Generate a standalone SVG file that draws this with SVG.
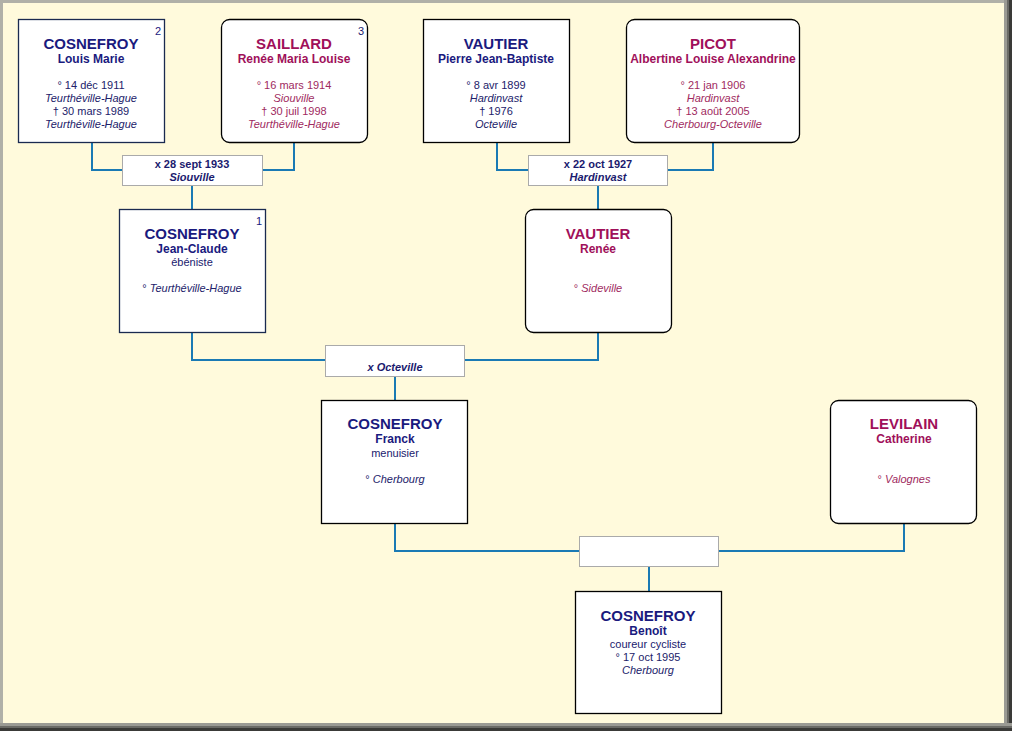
<svg xmlns="http://www.w3.org/2000/svg" width="1012" height="731" viewBox="0 0 1012 731">
<style>
text{font-family:"Liberation Sans",Arial,sans-serif;text-anchor:middle}
.sn{font-size:15px;font-weight:bold}
.gn{font-size:12px;font-weight:bold}
.d{font-size:11px}
.i{font-style:italic}
.num{font-size:11px;text-anchor:end}
.m text{fill:#1a1a7e}
.m .d{fill:#22226a}
.f text{fill:#a0105a}
.f .d{fill:#a02a60}
.box{fill:#fff;stroke:#1a2a50;stroke-width:1.3}
.blk{fill:#fff;stroke:#000;stroke-width:1.3}
.mar rect{fill:#fff;stroke:#aaa;stroke-width:1}
.mar text{fill:#1a1a6e;font-size:11px;font-weight:bold}
#connectors path{fill:none;stroke:#1a7ab4;stroke-width:2}
</style>
<rect x="0" y="0" width="1012" height="731" fill="#fffadc"/>
<!-- frame bevel -->
<rect x="0" y="0" width="1012" height="3" fill="#b0b0a8"/>
<rect x="0" y="0" width="3" height="731" fill="#b0b0a8"/>
<rect x="1004" y="0" width="8" height="731" fill="#9a9a94"/>
<rect x="1007" y="0" width="5" height="731" fill="#6a6a66"/>
<rect x="1009" y="0" width="3" height="731" fill="#3a3a38"/>
<rect x="0" y="723" width="1012" height="8" fill="#9a9a94"/>
<rect x="0" y="726" width="1012" height="5" fill="#6a6a66"/>
<rect x="0" y="728" width="1012" height="3" fill="#3a3a38"/>

<g id="connectors">
<path d="M92 142V170H122M294 142V170H262M192 185V209"/>
<path d="M497 142V170H528M713 142V170H667M598 185V209"/>
<path d="M192 332V360H325M598 332V360H464M395 376V400"/>
<path d="M395 523V551H579M904 523V551H718M649 566V591"/>
</g>

<g id="p2" class="m">
<rect class="box" x="18.5" y="19.5" width="146" height="123"/>
<text class="num" x="161" y="35">2</text>
<text class="sn" x="91" y="49">COSNEFROY</text>
<text class="gn" x="91" y="63">Louis Marie</text>
<text class="d" x="91" y="89">° 14 déc 1911</text>
<text class="d i" x="91" y="102">Teurthéville-Hague</text>
<text class="d" x="91" y="115">† 30 mars 1989</text>
<text class="d i" x="91" y="128">Teurthéville-Hague</text>
</g>

<g id="p3" class="f">
<rect class="blk" x="221.5" y="19.5" width="146" height="123" rx="8"/>
<text class="num" x="364" y="35" style="fill:#1a1a6e">3</text>
<text class="sn" x="294" y="49">SAILLARD</text>
<text class="gn" x="294" y="63">Renée Maria Louise</text>
<text class="d" x="294" y="89">° 16 mars 1914</text>
<text class="d i" x="294" y="102">Siouville</text>
<text class="d" x="294" y="115">† 30 juil 1998</text>
<text class="d i" x="294" y="128">Teurthéville-Hague</text>
</g>

<g id="p4" class="m">
<rect class="blk" x="423.5" y="19.5" width="146" height="123"/>
<text class="sn" x="496" y="49">VAUTIER</text>
<text class="gn" x="496" y="63">Pierre Jean-Baptiste</text>
<text class="d" x="496" y="89">° 8 avr 1899</text>
<text class="d i" x="496" y="102">Hardinvast</text>
<text class="d" x="496" y="115">† 1976</text>
<text class="d i" x="496" y="128">Octeville</text>
</g>

<g id="p5" class="f">
<rect class="blk" x="626.5" y="19.5" width="173" height="123" rx="8"/>
<text class="sn" x="713" y="49">PICOT</text>
<text class="gn" x="713" y="63">Albertine Louise Alexandrine</text>
<text class="d" x="713" y="89">° 21 jan 1906</text>
<text class="d i" x="713" y="102">Hardinvast</text>
<text class="d" x="713" y="115">† 13 août 2005</text>
<text class="d i" x="713" y="128">Cherbourg-Octeville</text>
</g>

<g id="m1" class="mar">
<rect x="122.5" y="155.5" width="140" height="30"/>
<text x="192" y="168">x 28 sept 1933</text>
<text class="i" x="192" y="181">Siouville</text>
</g>

<g id="m2" class="mar">
<rect x="528.5" y="155.5" width="139" height="30"/>
<text x="598" y="168">x 22 oct 1927</text>
<text class="i" x="598" y="181">Hardinvast</text>
</g>

<g id="p1" class="m">
<rect class="box" x="119.5" y="209.5" width="146" height="123"/>
<text class="num" x="262" y="225">1</text>
<text class="sn" x="192" y="239">COSNEFROY</text>
<text class="gn" x="192" y="253">Jean-Claude</text>
<text class="d" x="192" y="266" style="fill:#1a1a6e">ébéniste</text>
<text class="d" x="192" y="292">° <tspan class="i">Teurthéville-Hague</tspan></text>
</g>

<g id="p6" class="f">
<rect class="blk" x="525.5" y="209.5" width="146" height="123" rx="8"/>
<text class="sn" x="598" y="239">VAUTIER</text>
<text class="gn" x="598" y="253">Renée</text>
<text class="d" x="598" y="292">° <tspan class="i">Sideville</tspan></text>
</g>

<g id="m3" class="mar">
<rect x="325.5" y="345.5" width="139" height="31"/>
<text class="i" x="395" y="371">x Octeville</text>
</g>

<g id="p7" class="m">
<rect class="blk" x="321.5" y="400.5" width="146" height="123"/>
<text class="sn" x="395" y="429">COSNEFROY</text>
<text class="gn" x="395" y="443">Franck</text>
<text class="d" x="395" y="457" style="fill:#1a1a6e">menuisier</text>
<text class="d" x="395" y="483">° <tspan class="i">Cherbourg</tspan></text>
</g>

<g id="p8" class="f">
<rect class="blk" x="830.5" y="400.5" width="146" height="123" rx="8"/>
<text class="sn" x="904" y="429">LEVILAIN</text>
<text class="gn" x="904" y="443">Catherine</text>
<text class="d" x="904" y="483">° <tspan class="i">Valognes</tspan></text>
</g>

<g id="m4" class="mar">
<rect x="579.5" y="536.5" width="139" height="30"/>
</g>

<g id="p9" class="m">
<rect class="blk" x="575.5" y="591.5" width="146" height="122"/>
<text class="sn" x="648" y="621">COSNEFROY</text>
<text class="gn" x="648" y="635">Benoît</text>
<text class="d" x="648" y="648" style="fill:#1a1a6e">coureur cycliste</text>
<text class="d" x="648" y="661">° 17 oct 1995</text>
<text class="d i" x="648" y="674">Cherbourg</text>
</g>
</svg>
